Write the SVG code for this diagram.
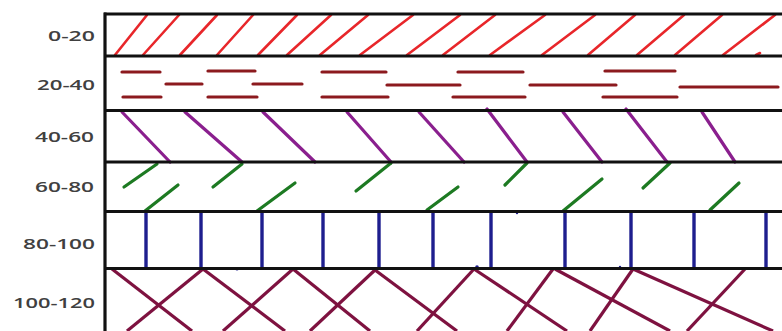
<svg xmlns="http://www.w3.org/2000/svg" width="782" height="331" viewBox="0 0 782 331">
<style>
.lbl{font-family:"Open Sans","Liberation Sans",sans-serif;font-weight:600;font-size:14px;fill:#404040}
.border{stroke:#111;stroke-width:3.2;fill:none}
.red{stroke:#e8262a;stroke-width:2.6;stroke-linecap:round}
.dash{stroke:#8c1a1e;stroke-width:3.2;stroke-linecap:round}
.pur{stroke:#8a1f8e;stroke-width:3.2;stroke-linecap:round}
.grn{stroke:#1d7a22;stroke-width:3.2;stroke-linecap:round}
.blu{stroke:#1e1e8e;stroke-width:3.4}
.mar{stroke:#7e1240;stroke-width:3.2}
</style>
<rect width="782" height="331" fill="#fff"/>
<g id="labels">
<text class="lbl" x="48" y="41" textLength="47" lengthAdjust="spacingAndGlyphs">0-20</text>
<text class="lbl" x="37" y="90" textLength="58" lengthAdjust="spacingAndGlyphs">20-40</text>
<text class="lbl" x="35" y="142" textLength="59" lengthAdjust="spacingAndGlyphs">40-60</text>
<text class="lbl" x="35" y="192" textLength="59" lengthAdjust="spacingAndGlyphs">60-80</text>
<text class="lbl" x="23" y="249" textLength="72" lengthAdjust="spacingAndGlyphs">80-100</text>
<text class="lbl" x="13" y="308" textLength="82" lengthAdjust="spacingAndGlyphs">100-120</text>
</g>
<g id="layer-0-20">
<line class="red" x1="115" y1="55" x2="147" y2="15"/>
<line class="red" x1="143" y1="55" x2="179" y2="15"/>
<line class="red" x1="180" y1="55" x2="217" y2="15"/>
<line class="red" x1="217" y1="55" x2="253" y2="15"/>
<line class="red" x1="258" y1="55" x2="297" y2="15"/>
<line class="red" x1="287" y1="55" x2="331" y2="15"/>
<line class="red" x1="320" y1="55" x2="368" y2="15"/>
<line class="red" x1="360" y1="55" x2="413" y2="15"/>
<line class="red" x1="407" y1="55" x2="460" y2="15"/>
<line class="red" x1="443" y1="55" x2="495" y2="15"/>
<line class="red" x1="490" y1="55" x2="545" y2="15"/>
<line class="red" x1="542" y1="55" x2="595" y2="15"/>
<line class="red" x1="588" y1="55" x2="635" y2="15"/>
<line class="red" x1="637" y1="55" x2="684" y2="15"/>
<line class="red" x1="675" y1="55" x2="722" y2="15"/>
<line class="red" x1="723" y1="55" x2="775" y2="15"/>
<line class="red" x1="756" y1="55" x2="760" y2="53"/>
</g>
<g id="layer-20-40">
<line class="dash" x1="122" y1="72" x2="160" y2="72"/>
<line class="dash" x1="208" y1="71" x2="255" y2="71"/>
<line class="dash" x1="322" y1="72" x2="386" y2="72"/>
<line class="dash" x1="458" y1="72" x2="523" y2="72"/>
<line class="dash" x1="605" y1="71" x2="675" y2="71"/>
<line class="dash" x1="166" y1="84" x2="202" y2="84"/>
<line class="dash" x1="253" y1="84" x2="302" y2="84"/>
<line class="dash" x1="387" y1="85" x2="460" y2="85"/>
<line class="dash" x1="530" y1="85" x2="616" y2="85"/>
<line class="dash" x1="680" y1="87" x2="778" y2="87"/>
<line class="dash" x1="123" y1="97" x2="161" y2="97"/>
<line class="dash" x1="208" y1="97" x2="257" y2="97"/>
<line class="dash" x1="322" y1="97" x2="388" y2="97"/>
<line class="dash" x1="453" y1="97" x2="525" y2="97"/>
<line class="dash" x1="603" y1="97" x2="677" y2="97"/>
</g>
<g id="layer-40-60">
<line class="pur" x1="122" y1="112" x2="170" y2="162"/>
<line class="pur" x1="185" y1="112" x2="242" y2="162"/>
<line class="pur" x1="263" y1="112" x2="315" y2="162"/>
<line class="pur" x1="347" y1="112" x2="391" y2="162"/>
<line class="pur" x1="419" y1="112" x2="464" y2="162"/>
<line class="pur" x1="487" y1="109" x2="527" y2="162"/>
<line class="pur" x1="563" y1="112" x2="602" y2="162"/>
<line class="pur" x1="626" y1="109" x2="667" y2="162"/>
<line class="pur" x1="702" y1="112" x2="735" y2="162"/>
</g>
<g id="layer-60-80">
<line class="grn" x1="124" y1="187" x2="157" y2="164"/>
<line class="grn" x1="145" y1="211" x2="178" y2="185"/>
<line class="grn" x1="213" y1="187" x2="242" y2="164"/>
<line class="grn" x1="257" y1="211" x2="295" y2="183"/>
<line class="grn" x1="356" y1="191" x2="391" y2="163"/>
<line class="grn" x1="427" y1="210" x2="458" y2="187"/>
<line class="grn" x1="505" y1="185" x2="527" y2="163"/>
<line class="grn" x1="563" y1="211" x2="602" y2="179"/>
<line class="grn" x1="643" y1="188" x2="670" y2="163"/>
<line class="grn" x1="710" y1="210" x2="739" y2="183"/>
</g>
<g id="layer-80-100">
<line class="blu" x1="146" y1="211" x2="146" y2="268"/>
<line class="blu" x1="201" y1="211" x2="201" y2="268"/>
<line class="blu" x1="262" y1="211" x2="262" y2="268"/>
<line class="blu" x1="323" y1="211" x2="323" y2="268"/>
<line class="blu" x1="379" y1="211" x2="379" y2="268"/>
<line class="blu" x1="433" y1="211" x2="433" y2="268"/>
<line class="blu" x1="491" y1="211" x2="491" y2="268"/>
<line class="blu" x1="565" y1="211" x2="565" y2="268"/>
<line class="blu" x1="631" y1="211" x2="631" y2="268"/>
<line class="blu" x1="694" y1="211" x2="694" y2="268"/>
<line class="blu" x1="766" y1="211" x2="766" y2="268"/>
<circle cx="237" cy="269" r="1.5" fill="#1e1e8e"/>
<circle cx="477" cy="267" r="1.8" fill="#1e1e8e"/>
<circle cx="620" cy="267" r="1.2" fill="#1e1e8e"/>
<circle cx="517" cy="213" r="1.2" fill="#1e1e8e"/>
</g>
<g id="layer-100-120">
<line class="mar" x1="112" y1="269" x2="192" y2="331"/>
<line class="mar" x1="203" y1="269" x2="127" y2="331"/>
<line class="mar" x1="203" y1="269" x2="285" y2="331"/>
<line class="mar" x1="293" y1="269" x2="223" y2="331"/>
<line class="mar" x1="293" y1="269" x2="370" y2="331"/>
<line class="mar" x1="375" y1="270" x2="310" y2="331"/>
<line class="mar" x1="375" y1="270" x2="457" y2="331"/>
<line class="mar" x1="474" y1="269" x2="417" y2="331"/>
<line class="mar" x1="474" y1="269" x2="567" y2="331"/>
<line class="mar" x1="553" y1="269" x2="507" y2="331"/>
<line class="mar" x1="555" y1="269" x2="670" y2="331"/>
<line class="mar" x1="633" y1="269" x2="590" y2="331"/>
<line class="mar" x1="633" y1="269" x2="773" y2="331"/>
<line class="mar" x1="745" y1="269" x2="687" y2="331"/>
</g>
<g id="borders">
<line class="border" x1="105" y1="12.5" x2="105" y2="331"/>
<line class="border" x1="104" y1="14" x2="782" y2="14"/>
<line class="border" x1="104" y1="56" x2="782" y2="56"/>
<line class="border" x1="104" y1="110.5" x2="782" y2="110.5"/>
<line class="border" x1="104" y1="162" x2="782" y2="162"/>
<line class="border" x1="104" y1="211.5" x2="782" y2="211.5"/>
<line class="border" x1="104" y1="268.5" x2="782" y2="268.5"/>
</g>
</svg>
